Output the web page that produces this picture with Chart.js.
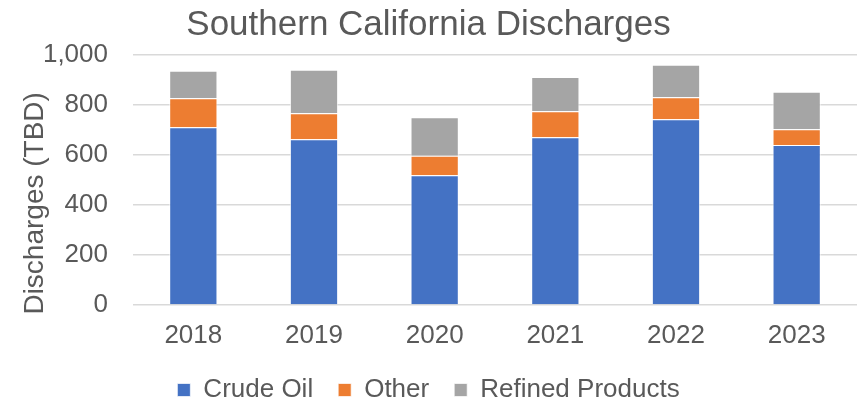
<!DOCTYPE html>
<html>
<head>
<meta charset="utf-8">
<script src="https://cdn.jsdelivr.net/npm/chart.js@4/dist/chart.umd.min.js"></script>
<style>
  html, body { margin: 0; padding: 0; background: #fff; }
  #wrap { width: 861px; height: 404px; position: relative; }
</style>
</head>
<body>
<div id="wrap"><canvas id="c" width="861" height="404"></canvas></div>
<script>
const categories = ['2018', '2019', '2020', '2021', '2022', '2023'];
const crudeOil = [711, 663, 519, 671, 743, 640];
const other = [116, 104, 78, 104, 88, 63];
const refinedProducts = [110, 174, 154, 137, 130, 150];
const yTicks = [0, 200, 400, 600, 800, 1000];

const FONT = "'Liberation Sans', Arial, sans-serif";
const TXT = '#595959';

new Chart(document.getElementById('c'), {
  type: 'bar',
  data: {
    labels: categories,
    datasets: [
      { label: 'Crude Oil', data: crudeOil, backgroundColor: '#4472C4', borderColor: 'rgba(255,255,255,0.7)', borderWidth: 1, barPercentage: 0.8, categoryPercentage: 0.5 },
      { label: 'Other', data: other, backgroundColor: '#ED7D31', borderColor: 'rgba(255,255,255,0.7)', borderWidth: 1, barPercentage: 0.8, categoryPercentage: 0.5 },
      { label: 'Refined Products', data: refinedProducts, backgroundColor: '#A5A5A5', borderColor: 'rgba(255,255,255,0.7)', borderWidth: 1, barPercentage: 0.8, categoryPercentage: 0.5 }
    ]
  },
  options: {
    responsive: false,
    animation: false,
    layout: { padding: { left: 0, right: 4, top: 0, bottom: -9 } },
    plugins: {
      title: {
        display: true,
        text: 'Southern California Discharges',
        color: TXT,
        font: { family: FONT, size: 35, weight: 'normal' },
        padding: { top: 4, bottom: 9 }
      },
      legend: {
        position: 'bottom',
        labels: {
          color: TXT,
          font: { family: FONT, size: 26 },
          boxWidth: 13,
          boxHeight: 13,
          padding: 25
        }
      },
      tooltip: { enabled: false }
    },
    scales: {
      x: {
        stacked: true,
        grid: { display: false, drawTicks: false },
        border: { display: false },
        ticks: { color: TXT, font: { family: FONT, size: 26 }, padding: 15 },
        afterFit: (s) => { s.height = 47; }
      },
      y: {
        stacked: true,
        min: 0,
        max: 1000,
        afterBuildTicks: (s) => { s.ticks = yTicks.map(v => ({ value: v })); },
        grid: { color: '#D9D9D9', lineWidth: 1.5, drawTicks: false },
        border: { display: false },
        ticks: { color: TXT, font: { family: FONT, size: 26 }, padding: 25 },
        title: {
          display: true,
          text: 'Discharges (TBD)      ',
          color: TXT,
          font: { family: FONT, size: 28 },
          padding: { top: 18, bottom: 0 }
        },
        afterFit: (s) => { s.width = 133; }
      }
    }
  }
});
</script>
</body>
</html>
